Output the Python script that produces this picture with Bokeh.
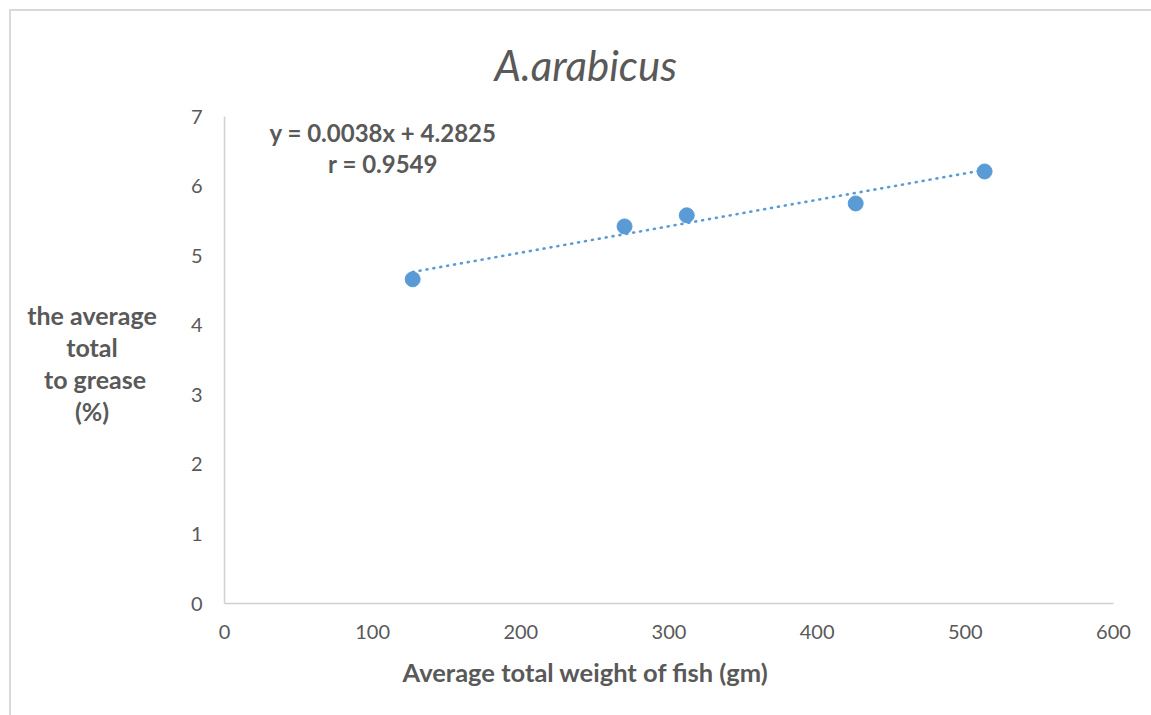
from bokeh.plotting import figure
from bokeh.models import Label, Title, Div
from bokeh.layouts import row
from bokeh.embed import file_html
from bokeh.resources import INLINE

# Data
weights = [127, 270, 312, 426, 513]          # Average total weight of fish (gm)
grease = [4.66, 5.42, 5.58, 5.75, 6.21]      # average total to grease (%)
slope = 0.0038
intercept = 4.2825
r_value = 0.9549
x_ticks = [0, 100, 200, 300, 400, 500, 600]
y_ticks = [0, 1, 2, 3, 4, 5, 6, 7]
title = "A.arabicus"
x_title = "Average total weight of fish (gm)"
y_title_lines = ["the average", "total", " to grease", "(%)"]

FONT = "Lato"
GREY = "#595959"
BLUE = "#5b9bd5"

DIV_W = 160          # Div adds 5px padding on each side -> 170px
FIG_W = 1140 - (DIV_W + 10)
p = figure(width=FIG_W, height=704, x_range=(0, 600), y_range=(0, 7),
           output_backend="svg", toolbar_location=None,
           min_border_left=213 - (DIV_W + 10), min_border_right=38,
           min_border_top=105, min_border_bottom=112)

p.title.text = title
p.title.text_font = FONT
p.title.text_font_style = "italic"
p.title.text_font_size = "42px"
p.title.text_color = GREY
p.title.align = "left"
p.title.offset = 270
p.title.standoff = 53

p.outline_line_color = None
p.grid.visible = False

for ax in (p.xaxis[0], p.yaxis[0]):
    ax.axis_line_color = "#d0d0d0"
    ax.axis_line_width = 1.5
    ax.major_tick_line_color = None
    ax.minor_tick_line_color = None
    ax.major_label_text_font = FONT
    ax.major_label_text_font_size = "20px"
    ax.major_label_text_color = GREY

p.xaxis.ticker = x_ticks
p.yaxis.ticker = y_ticks
p.xaxis.major_label_standoff = 15
p.yaxis.major_label_standoff = 16

xt = Title(text=x_title, align="left", offset=178, standoff=26,
           text_font=FONT, text_font_style="bold", text_font_size="25.5px",
           text_color=GREY)
p.add_layout(xt, "below")

# trendline from the regression equation over the data's range
tx = [min(weights), max(weights)]
ty = [slope * v + intercept for v in tx]
p.line(tx, ty, line_color=BLUE, line_width=2.6, line_dash="1 6", line_cap="round")

p.scatter(weights, grease, size=15, fill_color=BLUE, line_color=BLUE)

eq = Label(x=107, y=6.55, text=f"y = {slope}x + {intercept}\nr = {r_value}",
           text_font=FONT, text_font_style="bold", text_font_size="24px",
           text_color=GREY, text_align="center", text_baseline="middle",
           text_line_height=1.08)
p.add_layout(eq)

ylab_html = "<br>".join(s.replace(" ", "&nbsp;") if s.startswith(" ") else s
                        for s in y_title_lines)
div = Div(text=(f'<div style="width:152px; padding-top:283px; text-align:center; '
                f'font-family:{FONT}; font-weight:bold; font-size:25px; '
                f'line-height:32px; color:{GREY};">{ylab_html}</div>'),
          width=DIV_W, height=694)

layout = row(div, p)
layout.styles = {"border-left": "2px solid #d9d9d9", "border-top": "2px solid #d9d9d9",
                 "margin-left": "9px", "margin-top": "9px"}

open("out.html", "w").write(file_html(layout, INLINE))
